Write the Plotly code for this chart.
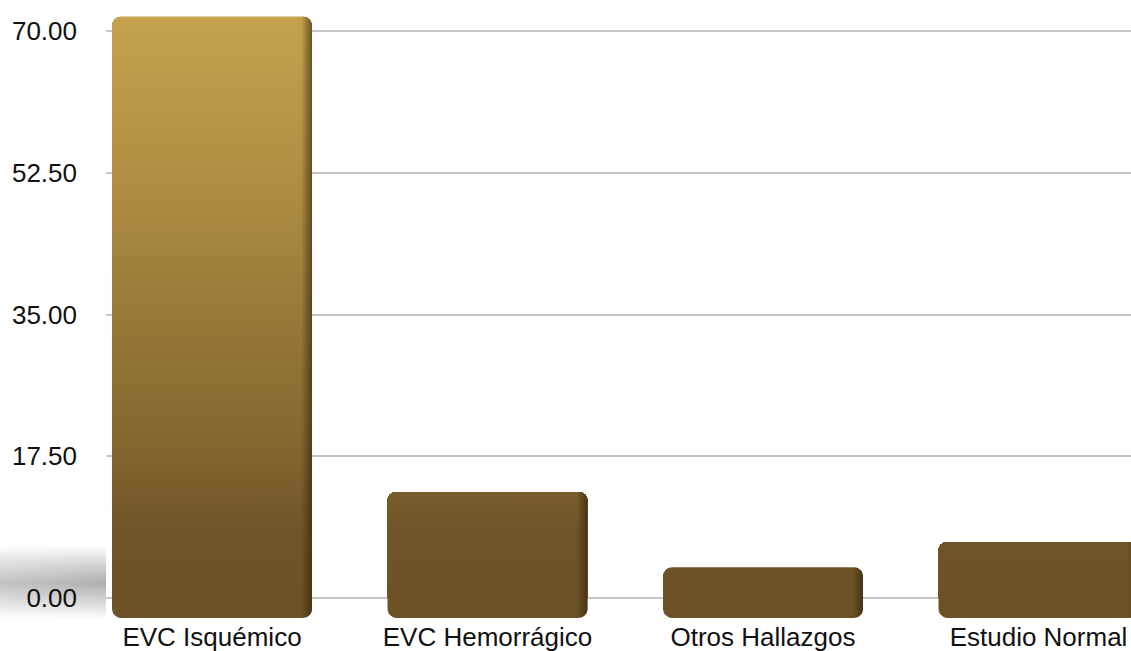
import numpy as np
import plotly.graph_objects as go

# ---- data ----
categories = ["EVC Isquémico", "EVC Hemorrágico", "Otros Hallazgos", "Estudio Normal"]
values = [71.8, 13.1, 3.8, 6.9]
y_ticks = [0, 17.5, 35, 52.5, 70]

# ---- geometry / style ----
W, H = 1131, 651
PX_X = 275.5          # pixels per category step
PX_Y = 8.1            # pixels per value unit
X_LEFT_PX = 106
CENTER0_PX = 212
ZERO_PX = 598
Y_RANGE = [-2.5, 73.5]
BAR_W = 0.726
DROP = 20 / PX_Y      # plinth of the 3D bars below the zero line
RAD_PX = 9

x_range = [(X_LEFT_PX - CENTER0_PX) / PX_X, (W - CENTER0_PX) / PX_X]
top_px = ZERO_PX - Y_RANGE[1] * PX_Y
bot_px = ZERO_PX - Y_RANGE[0] * PX_Y
y_domain = [1 - bot_px / H, 1 - top_px / H]

FONT = "Liberation Sans, Arial, Helvetica, sans-serif"


def rounded_rect(x0, x1, y0, y1, rx, ry, n=8):
    """Outline of a rectangle with rounded corners, in data units."""
    xs, ys = [], []
    corners = [
        (x1 - rx, y1 - ry, 0, 90),     # top-right
        (x0 + rx, y1 - ry, 90, 180),   # top-left
        (x0 + rx, y0 + ry, 180, 270),  # bottom-left
        (x1 - rx, y0 + ry, 270, 360),  # bottom-right
    ]
    for cx, cy, a0, a1 in corners:
        for a in np.linspace(np.radians(a0), np.radians(a1), n):
            xs.append(cx + rx * np.cos(a))
            ys.append(cy + ry * np.sin(a))
    xs.append(xs[0])
    ys.append(ys[0])
    return xs, ys


def right_strip(x1, y0, y1, w, rx, ry, n=8):
    """Right-hand side face of a bar (follows the rounded corners)."""
    xs, ys = [x1 - w], [y1]
    for a in np.linspace(np.pi / 2, 0, n):
        xs.append(x1 - rx + rx * np.cos(a))
        ys.append(y1 - ry + ry * np.sin(a))
    for a in np.linspace(0, -np.pi / 2, n):
        xs.append(x1 - rx + rx * np.cos(a))
        ys.append(y0 + ry + ry * np.sin(a))
    xs += [x1 - w, x1 - w]
    ys += [y0, y1]
    return xs, ys


fig = go.Figure()

# soft shadow at the lower left, drawn in a pixel-space overlay as
# many thin, nested translucent bands so the edges fade out
SH_CENTER, SH_HALF = 583, 36
n_bands = 14
for k in range(n_bands):
    half = SH_HALF * (1 - k / n_bands)
    yt, yb = SH_CENTER - half, SH_CENTER + half * 0.95
    fig.add_trace(go.Scatter(
        x=[0, X_LEFT_PX, X_LEFT_PX, 0, 0], y=[yt, yt, yb, yb, yt],
        xaxis="x2", yaxis="y2", mode="lines", line=dict(width=0),
        fill="toself",
        fillgradient=dict(type="horizontal", start=0, stop=X_LEFT_PX,
                          colorscale=[[0, "rgba(0,0,0,0.019)"], [1, "rgba(0,0,0,0.026)"]]),
        hoverinfo="skip", showlegend=False,
    ))

# base bars
fig.add_trace(go.Bar(
    x=list(range(len(categories))), y=values, width=BAR_W,
    marker=dict(color="#6e5427", cornerradius=RAD_PX, line=dict(width=0)),
    showlegend=False, hovertext=categories, hoverinfo="text+y",
))

# gold-to-bronze face shading, shared vertical gradient in value units
rx = RAD_PX / PX_X
ry = RAD_PX / PX_Y
face_x, face_y = [], []
for i, v in enumerate(values):
    xs, ys = rounded_rect(i - BAR_W / 2, i + BAR_W / 2, -DROP, v, rx, ry)
    face_x += xs + [None]
    face_y += ys + [None]
fig.add_trace(go.Scatter(
    x=face_x, y=face_y, mode="lines", line=dict(width=0), fill="toself",
    fillgradient=dict(type="vertical", start=-DROP, stop=72,
                      colorscale=[[0.00, "#6c5226"], [0.14, "#6f5428"], [0.28, "#836630"],
                                  [0.48, "#977738"], [0.70, "#ad8b41"], [0.85, "#ba9748"],
                                  [1.00, "#c6a24e"]]),
    hoverinfo="skip", showlegend=False,
))

# darker side face on the right of each bar
SIDE_PX = 11
for i, v in enumerate(values):
    x1 = i + BAR_W / 2
    sw = SIDE_PX / PX_X
    xs, ys = right_strip(x1, -DROP, v, sw, rx, ry)
    fig.add_trace(go.Scatter(
        x=xs, y=ys, mode="lines", line=dict(width=0), fill="toself",
        fillgradient=dict(type="horizontal", start=x1 - sw, stop=x1,
                          colorscale=[[0, "rgba(45,32,10,0)"], [1, "rgba(45,32,10,0.6)"]]),
        hoverinfo="skip", showlegend=False,
    ))

fig.update_layout(
    width=W, height=H,
    margin=dict(l=0, r=0, t=0, b=0, autoexpand=False),
    paper_bgcolor="white",
    plot_bgcolor="rgba(0,0,0,0)",
    font=dict(family=FONT, size=26, color="#111111"),
    bargap=0,
    xaxis=dict(
        domain=[X_LEFT_PX / W, 1], range=x_range, automargin=False,
        tickmode="array", tickvals=list(range(len(categories))), ticktext=categories,
        showgrid=False, zeroline=False, showline=False, ticks="",
        ticklabelstandoff=1,
        tickfont=dict(family=FONT, size=26, color="#111111"),
    ),
    yaxis=dict(
        domain=y_domain, range=Y_RANGE, automargin=False,
        tickmode="array", tickvals=y_ticks, tickformat=".2f",
        showgrid=True, gridcolor="#c6c6c6", gridwidth=2,
        zeroline=False, showline=False, ticks="",
        ticklabelstandoff=28,
        tickfont=dict(family=FONT, size=26, color="#111111"),
    ),
    xaxis2=dict(domain=[0, 1], range=[0, W], visible=False, anchor="y2", automargin=False),
    yaxis2=dict(domain=[0, 1], range=[H, 0], visible=False, anchor="x2", automargin=False),
)

fig.write_html("out.html")
